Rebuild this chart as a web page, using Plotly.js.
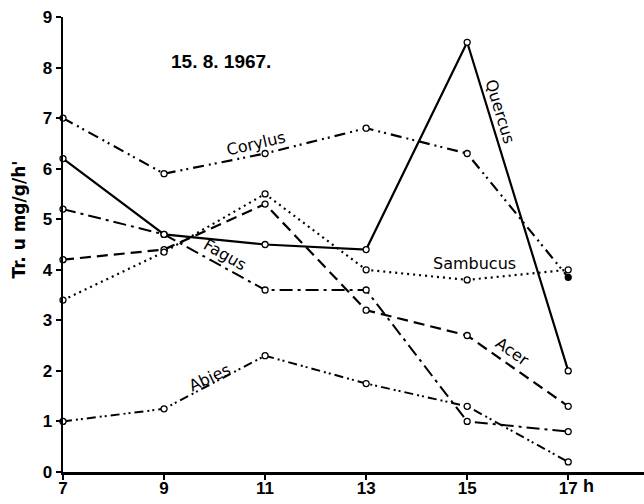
<!DOCTYPE html>
<html>
<head>
<meta charset="utf-8">
<script src="https://cdn.plot.ly/plotly-3.0.1.min.js"></script>
<style>html,body{margin:0;padding:0;background:#fff;}#chart{width:644px;height:504px;}</style>
</head>
<body>
<div id="chart"></div>
<script>
const hours = [7, 9, 11, 13, 15, 17];
const quercus = [6.2, 4.7, 4.5, 4.4, 8.5, 2.0];
const corylus = [7.0, 5.9, 6.3, 6.8, 6.3, 3.85];
const sambucus = [3.4, 4.35, 5.5, 4.0, 3.8, 4.0];
const acer = [4.2, 4.4, 5.3, 3.2, 2.7, 1.3];
const fagus = [5.2, 4.7, 3.6, 3.6, 1.0, 0.8];
const abies = [1.0, 1.25, 2.3, 1.75, 1.3, 0.2];
const yTicks = [0, 1, 2, 3, 4, 5, 6, 7, 8, 9];
const xTicks = [7, 9, 11, 13, 15, 17];
const dateText = '15. 8. 1967.';
const yTitle = "Tr. u mg/g/h'";

function series(name, y, dash, width, markerColors) {
  return {
    x: hours, y: y, name: name, mode: 'lines+markers', type: 'scatter',
    cliponaxis: false,
    line: {color: '#000', width: width, dash: dash},
    marker: {symbol: 'circle', size: 6, color: markerColors || '#fff', line: {color: '#000', width: 1.3}}
  };
}

const traces = [
  series('Abies', abies, '9px,4px,2px,3px,2px,4px', 2),
  series('Fagus', fagus, '13px,5px,3px,5px', 2),
  series('Acer', acer, '11px,6px', 2.2),
  series('Sambucus', sambucus, '2px,4px', 2.2),
  series('Corylus', corylus, '11px,5px,2px,4px,2px,5px', 2.2, ['#fff','#fff','#fff','#fff','#fff','#000']),
  series('Quercus', quercus, 'solid', 2.2)
];

const labelFont = {family: 'DejaVu Sans, sans-serif', size: 16, color: '#000'};
function lab(text, x, y, angle) {
  return {text: text, x: x, y: y, xref: 'x', yref: 'y', showarrow: false, textangle: angle, font: labelFont};
}
const boldFont = (s) => ({family: 'Liberation Sans, Arial, sans-serif', size: s, weight: 'bold', color: '#000'});

const layout = {
  width: 644, height: 504,
  margin: {l: 63, r: 0, t: 17, b: 32},
  paper_bgcolor: '#fff', plot_bgcolor: '#fff',
  showlegend: false,
  xaxis: {
    range: [7, 18.5], tickvals: xTicks, ticktext: xTicks.map(String),
    showgrid: false, zeroline: false, showline: true, linecolor: '#000', linewidth: 2.5,
    ticks: 'outside', ticklen: 5, tickwidth: 2, tickcolor: '#000',
    ticklabelstandoff: -6,
    tickfont: boldFont(17)
  },
  yaxis: {
    range: [0, 9], tickvals: yTicks, ticktext: yTicks.map(String),
    showgrid: false, zeroline: false, showline: true, linecolor: '#000', linewidth: 2.5,
    ticks: 'outside', ticklen: 5, tickwidth: 2, tickcolor: '#000',
    tickfont: boldFont(17)
  },
  annotations: [
    {text: dateText, x: 10.13, y: 8.12, xref: 'x', yref: 'y', showarrow: false, font: boldFont(19)},
    lab('Corylus', 10.82, 6.5, -13),
    lab('Quercus', 15.65, 7.13, 73),
    lab('Sambucus', 15.14, 4.12, 0),
    lab('Fagus', 10.2, 4.3, 30),
    lab('Acer', 15.89, 2.38, 35),
    lab('Abies', 9.91, 1.86, -25),
    {text: yTitle, xref: 'paper', yref: 'paper', x: -0.075, y: (472 - 219) / 455, xanchor: 'center', yanchor: 'middle',
     textangle: -90, showarrow: false, font: {family: 'DejaVu Sans, sans-serif', size: 17, weight: 'bold', color: '#000'}},
    {text: 'h', xref: 'paper', yref: 'paper', x: (588 - 63) / 581, y: (472 - 486) / 455, xanchor: 'center', yanchor: 'middle',
     showarrow: false, font: boldFont(18)}
  ]
};

Plotly.newPlot('chart', traces, layout, {displayModeBar: false, staticPlot: true});
</script>
</body>
</html>
